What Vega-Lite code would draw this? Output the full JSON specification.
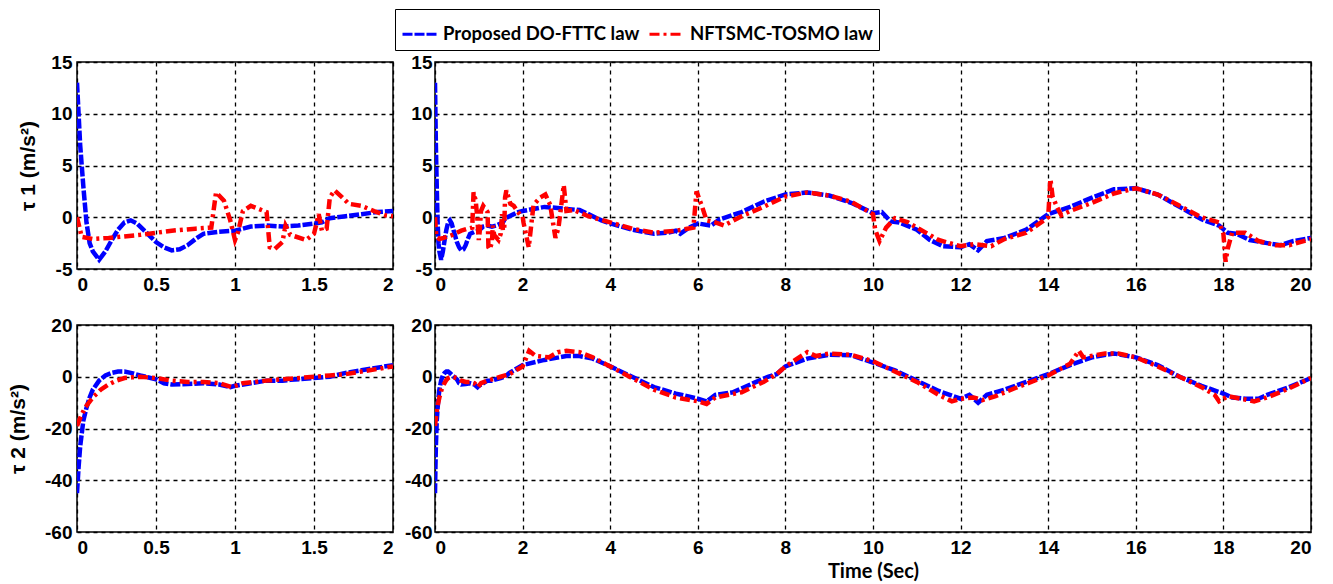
{
  "$schema": "https://vega.github.io/schema/vega-lite/v6.json",
  "padding": {"left": 6, "top": 8, "right": 5, "bottom": 2},
  "background": "white",
  "config": {
    "view": {"stroke": "black", "strokeWidth": 1.5},
    "axis": {
      "labelFont": "Liberation Sans", "labelFontWeight": "bold", "labelFontSize": 19, "labelColor": "black",
      "titleFont": "Liberation Sans", "titleFontWeight": "bold", "titleFontSize": 21, "titleColor": "black",
      "grid": true, "gridColor": "black", "gridDash": [4, 4], "gridWidth": 1.3, "gridOpacity": 1,
      "domain": false, "ticks": false, "labelExpr": "'' + datum.value"
    },
    "axisX": {"labelPadding": 6},
    "axisY": {"labelPadding": 5}
  },
  "datasets": {
    "tau1": [
      {"law": "Proposed DO-FTTC law", "t": 0, "v": 13},
      {"law": "Proposed DO-FTTC law", "t": 0.01, "v": 10},
      {"law": "Proposed DO-FTTC law", "t": 0.02, "v": 7},
      {"law": "Proposed DO-FTTC law", "t": 0.04, "v": 3},
      {"law": "Proposed DO-FTTC law", "t": 0.06, "v": -0.5},
      {"law": "Proposed DO-FTTC law", "t": 0.08, "v": -2.5},
      {"law": "Proposed DO-FTTC law", "t": 0.1, "v": -3.3},
      {"law": "Proposed DO-FTTC law", "t": 0.14, "v": -4.1},
      {"law": "Proposed DO-FTTC law", "t": 0.18, "v": -3.3},
      {"law": "Proposed DO-FTTC law", "t": 0.22, "v": -2.2},
      {"law": "Proposed DO-FTTC law", "t": 0.26, "v": -1.2},
      {"law": "Proposed DO-FTTC law", "t": 0.3, "v": -0.5},
      {"law": "Proposed DO-FTTC law", "t": 0.34, "v": -0.3},
      {"law": "Proposed DO-FTTC law", "t": 0.38, "v": -0.6},
      {"law": "Proposed DO-FTTC law", "t": 0.42, "v": -1.2},
      {"law": "Proposed DO-FTTC law", "t": 0.46, "v": -1.8},
      {"law": "Proposed DO-FTTC law", "t": 0.5, "v": -2.4},
      {"law": "Proposed DO-FTTC law", "t": 0.55, "v": -2.9},
      {"law": "Proposed DO-FTTC law", "t": 0.6, "v": -3.2},
      {"law": "Proposed DO-FTTC law", "t": 0.65, "v": -3.1},
      {"law": "Proposed DO-FTTC law", "t": 0.7, "v": -2.7},
      {"law": "Proposed DO-FTTC law", "t": 0.75, "v": -2.1},
      {"law": "Proposed DO-FTTC law", "t": 0.8, "v": -1.6},
      {"law": "Proposed DO-FTTC law", "t": 0.9, "v": -1.4},
      {"law": "Proposed DO-FTTC law", "t": 1.0, "v": -1.3},
      {"law": "Proposed DO-FTTC law", "t": 1.05, "v": -1.1},
      {"law": "Proposed DO-FTTC law", "t": 1.1, "v": -0.9},
      {"law": "Proposed DO-FTTC law", "t": 1.2, "v": -0.8},
      {"law": "Proposed DO-FTTC law", "t": 1.3, "v": -0.9},
      {"law": "Proposed DO-FTTC law", "t": 1.4, "v": -0.8},
      {"law": "Proposed DO-FTTC law", "t": 1.5, "v": -0.6},
      {"law": "Proposed DO-FTTC law", "t": 1.55, "v": -0.5},
      {"law": "Proposed DO-FTTC law", "t": 1.6, "v": -0.1},
      {"law": "Proposed DO-FTTC law", "t": 1.7, "v": 0.1},
      {"law": "Proposed DO-FTTC law", "t": 1.8, "v": 0.3},
      {"law": "Proposed DO-FTTC law", "t": 1.9, "v": 0.5},
      {"law": "Proposed DO-FTTC law", "t": 2.0, "v": 0.6},
      {"law": "Proposed DO-FTTC law", "t": 2.5, "v": 1.0},
      {"law": "Proposed DO-FTTC law", "t": 2.8, "v": 0.9},
      {"law": "Proposed DO-FTTC law", "t": 3.0, "v": 0.8},
      {"law": "Proposed DO-FTTC law", "t": 3.3, "v": 0.7},
      {"law": "Proposed DO-FTTC law", "t": 3.5, "v": 0.3},
      {"law": "Proposed DO-FTTC law", "t": 3.8, "v": -0.3},
      {"law": "Proposed DO-FTTC law", "t": 4.0, "v": -0.6},
      {"law": "Proposed DO-FTTC law", "t": 4.5, "v": -1.2},
      {"law": "Proposed DO-FTTC law", "t": 5.0, "v": -1.6},
      {"law": "Proposed DO-FTTC law", "t": 5.3, "v": -1.5},
      {"law": "Proposed DO-FTTC law", "t": 5.5, "v": -1.3},
      {"law": "Proposed DO-FTTC law", "t": 5.6, "v": -1.6},
      {"law": "Proposed DO-FTTC law", "t": 5.8, "v": -1.0},
      {"law": "Proposed DO-FTTC law", "t": 6.0, "v": -0.6},
      {"law": "Proposed DO-FTTC law", "t": 6.3, "v": -0.8},
      {"law": "Proposed DO-FTTC law", "t": 6.5, "v": -0.2},
      {"law": "Proposed DO-FTTC law", "t": 7.0, "v": 0.5},
      {"law": "Proposed DO-FTTC law", "t": 7.5, "v": 1.5},
      {"law": "Proposed DO-FTTC law", "t": 8.0, "v": 2.2},
      {"law": "Proposed DO-FTTC law", "t": 8.5, "v": 2.4},
      {"law": "Proposed DO-FTTC law", "t": 9.0, "v": 2.1},
      {"law": "Proposed DO-FTTC law", "t": 9.5, "v": 1.4},
      {"law": "Proposed DO-FTTC law", "t": 10.0, "v": 0.4},
      {"law": "Proposed DO-FTTC law", "t": 10.2, "v": 0.5},
      {"law": "Proposed DO-FTTC law", "t": 10.4, "v": -0.4},
      {"law": "Proposed DO-FTTC law", "t": 10.6, "v": -0.5},
      {"law": "Proposed DO-FTTC law", "t": 11.0, "v": -1.2},
      {"law": "Proposed DO-FTTC law", "t": 11.3, "v": -2.2},
      {"law": "Proposed DO-FTTC law", "t": 11.6, "v": -2.8},
      {"law": "Proposed DO-FTTC law", "t": 12.0, "v": -2.9},
      {"law": "Proposed DO-FTTC law", "t": 12.2, "v": -2.6},
      {"law": "Proposed DO-FTTC law", "t": 12.4, "v": -3.2},
      {"law": "Proposed DO-FTTC law", "t": 12.6, "v": -2.3},
      {"law": "Proposed DO-FTTC law", "t": 13.0, "v": -2.0},
      {"law": "Proposed DO-FTTC law", "t": 13.5, "v": -1.2},
      {"law": "Proposed DO-FTTC law", "t": 14.0, "v": 0.3},
      {"law": "Proposed DO-FTTC law", "t": 14.5, "v": 1.0},
      {"law": "Proposed DO-FTTC law", "t": 15.0, "v": 1.9},
      {"law": "Proposed DO-FTTC law", "t": 15.5, "v": 2.7},
      {"law": "Proposed DO-FTTC law", "t": 16.0, "v": 2.8},
      {"law": "Proposed DO-FTTC law", "t": 16.5, "v": 2.2},
      {"law": "Proposed DO-FTTC law", "t": 17.0, "v": 1.0},
      {"law": "Proposed DO-FTTC law", "t": 17.5, "v": -0.2},
      {"law": "Proposed DO-FTTC law", "t": 17.9, "v": -0.8},
      {"law": "Proposed DO-FTTC law", "t": 18.1, "v": -1.5},
      {"law": "Proposed DO-FTTC law", "t": 18.3, "v": -1.6},
      {"law": "Proposed DO-FTTC law", "t": 18.6, "v": -2.2},
      {"law": "Proposed DO-FTTC law", "t": 19.0, "v": -2.5},
      {"law": "Proposed DO-FTTC law", "t": 19.3, "v": -2.7},
      {"law": "Proposed DO-FTTC law", "t": 19.6, "v": -2.3},
      {"law": "Proposed DO-FTTC law", "t": 20.0, "v": -2.0},
      {"law": "NFTSMC-TOSMO law", "t": 0, "v": 0},
      {"law": "NFTSMC-TOSMO law", "t": 0.03, "v": -1.9},
      {"law": "NFTSMC-TOSMO law", "t": 0.1, "v": -2.1},
      {"law": "NFTSMC-TOSMO law", "t": 0.2, "v": -2.0},
      {"law": "NFTSMC-TOSMO law", "t": 0.4, "v": -1.7},
      {"law": "NFTSMC-TOSMO law", "t": 0.6, "v": -1.3},
      {"law": "NFTSMC-TOSMO law", "t": 0.75, "v": -1.1},
      {"law": "NFTSMC-TOSMO law", "t": 0.85, "v": -1.0},
      {"law": "NFTSMC-TOSMO law", "t": 0.88, "v": 2.4},
      {"law": "NFTSMC-TOSMO law", "t": 0.93, "v": 1.6},
      {"law": "NFTSMC-TOSMO law", "t": 0.97, "v": -0.3},
      {"law": "NFTSMC-TOSMO law", "t": 1.0, "v": -2.2},
      {"law": "NFTSMC-TOSMO law", "t": 1.02, "v": -1.4},
      {"law": "NFTSMC-TOSMO law", "t": 1.05, "v": 0.6},
      {"law": "NFTSMC-TOSMO law", "t": 1.1, "v": 1.1},
      {"law": "NFTSMC-TOSMO law", "t": 1.15, "v": 0.8},
      {"law": "NFTSMC-TOSMO law", "t": 1.2, "v": 0.5},
      {"law": "NFTSMC-TOSMO law", "t": 1.22, "v": -2.9},
      {"law": "NFTSMC-TOSMO law", "t": 1.25, "v": -3.1},
      {"law": "NFTSMC-TOSMO law", "t": 1.3, "v": -2.4},
      {"law": "NFTSMC-TOSMO law", "t": 1.32, "v": -0.8},
      {"law": "NFTSMC-TOSMO law", "t": 1.35, "v": -1.7},
      {"law": "NFTSMC-TOSMO law", "t": 1.45, "v": -2.2},
      {"law": "NFTSMC-TOSMO law", "t": 1.5, "v": -1.6},
      {"law": "NFTSMC-TOSMO law", "t": 1.53, "v": 0.3},
      {"law": "NFTSMC-TOSMO law", "t": 1.55, "v": -1.3},
      {"law": "NFTSMC-TOSMO law", "t": 1.58, "v": -1.1},
      {"law": "NFTSMC-TOSMO law", "t": 1.6, "v": 1.9},
      {"law": "NFTSMC-TOSMO law", "t": 1.63, "v": 2.6},
      {"law": "NFTSMC-TOSMO law", "t": 1.68, "v": 1.9},
      {"law": "NFTSMC-TOSMO law", "t": 1.72, "v": 1.3},
      {"law": "NFTSMC-TOSMO law", "t": 1.8, "v": 1.1},
      {"law": "NFTSMC-TOSMO law", "t": 1.88, "v": 0.6},
      {"law": "NFTSMC-TOSMO law", "t": 1.95, "v": 0.2},
      {"law": "NFTSMC-TOSMO law", "t": 2.0, "v": 0.1},
      {"law": "NFTSMC-TOSMO law", "t": 2.02, "v": -0.5},
      {"law": "NFTSMC-TOSMO law", "t": 2.14, "v": -2.9},
      {"law": "NFTSMC-TOSMO law", "t": 2.25, "v": 1.2},
      {"law": "NFTSMC-TOSMO law", "t": 2.4, "v": 1.9},
      {"law": "NFTSMC-TOSMO law", "t": 2.52, "v": 2.2},
      {"law": "NFTSMC-TOSMO law", "t": 2.63, "v": 1.2},
      {"law": "NFTSMC-TOSMO law", "t": 2.75, "v": -2.0},
      {"law": "NFTSMC-TOSMO law", "t": 2.82, "v": -1.0},
      {"law": "NFTSMC-TOSMO law", "t": 2.94, "v": 3.1},
      {"law": "NFTSMC-TOSMO law", "t": 3.0, "v": 0.6},
      {"law": "NFTSMC-TOSMO law", "t": 3.17, "v": 0.7},
      {"law": "NFTSMC-TOSMO law", "t": 3.5, "v": 0.1},
      {"law": "NFTSMC-TOSMO law", "t": 4.0, "v": -0.5},
      {"law": "NFTSMC-TOSMO law", "t": 4.5, "v": -1.1},
      {"law": "NFTSMC-TOSMO law", "t": 5.0, "v": -1.5},
      {"law": "NFTSMC-TOSMO law", "t": 5.5, "v": -1.3},
      {"law": "NFTSMC-TOSMO law", "t": 5.9, "v": -1.0},
      {"law": "NFTSMC-TOSMO law", "t": 5.97, "v": 2.5},
      {"law": "NFTSMC-TOSMO law", "t": 6.1, "v": 1.0},
      {"law": "NFTSMC-TOSMO law", "t": 6.2, "v": -0.3},
      {"law": "NFTSMC-TOSMO law", "t": 6.4, "v": -0.5},
      {"law": "NFTSMC-TOSMO law", "t": 6.6, "v": -0.8},
      {"law": "NFTSMC-TOSMO law", "t": 7.0, "v": 0.1},
      {"law": "NFTSMC-TOSMO law", "t": 7.5, "v": 1.0},
      {"law": "NFTSMC-TOSMO law", "t": 8.0, "v": 2.0},
      {"law": "NFTSMC-TOSMO law", "t": 8.5, "v": 2.4},
      {"law": "NFTSMC-TOSMO law", "t": 9.0, "v": 2.1},
      {"law": "NFTSMC-TOSMO law", "t": 9.5, "v": 1.5},
      {"law": "NFTSMC-TOSMO law", "t": 10.0, "v": 0.3},
      {"law": "NFTSMC-TOSMO law", "t": 10.05, "v": -1.2},
      {"law": "NFTSMC-TOSMO law", "t": 10.15, "v": -2.3},
      {"law": "NFTSMC-TOSMO law", "t": 10.3, "v": -1.0},
      {"law": "NFTSMC-TOSMO law", "t": 10.5, "v": -0.1},
      {"law": "NFTSMC-TOSMO law", "t": 10.8, "v": -0.5},
      {"law": "NFTSMC-TOSMO law", "t": 11.0, "v": -1.0},
      {"law": "NFTSMC-TOSMO law", "t": 11.5, "v": -2.2},
      {"law": "NFTSMC-TOSMO law", "t": 12.0, "v": -2.8},
      {"law": "NFTSMC-TOSMO law", "t": 12.3, "v": -2.6},
      {"law": "NFTSMC-TOSMO law", "t": 12.7, "v": -2.8},
      {"law": "NFTSMC-TOSMO law", "t": 13.0, "v": -2.1},
      {"law": "NFTSMC-TOSMO law", "t": 13.5, "v": -1.5},
      {"law": "NFTSMC-TOSMO law", "t": 13.9, "v": -0.3},
      {"law": "NFTSMC-TOSMO law", "t": 14.0, "v": 0.0},
      {"law": "NFTSMC-TOSMO law", "t": 14.05, "v": 3.7},
      {"law": "NFTSMC-TOSMO law", "t": 14.1, "v": 2.0},
      {"law": "NFTSMC-TOSMO law", "t": 14.2, "v": 1.0},
      {"law": "NFTSMC-TOSMO law", "t": 14.3, "v": 0.2},
      {"law": "NFTSMC-TOSMO law", "t": 14.5, "v": 0.6},
      {"law": "NFTSMC-TOSMO law", "t": 15.0, "v": 1.4},
      {"law": "NFTSMC-TOSMO law", "t": 15.5, "v": 2.3},
      {"law": "NFTSMC-TOSMO law", "t": 16.0, "v": 2.8},
      {"law": "NFTSMC-TOSMO law", "t": 16.5, "v": 2.2},
      {"law": "NFTSMC-TOSMO law", "t": 17.0, "v": 1.1},
      {"law": "NFTSMC-TOSMO law", "t": 17.5, "v": 0.0},
      {"law": "NFTSMC-TOSMO law", "t": 17.9, "v": -0.5},
      {"law": "NFTSMC-TOSMO law", "t": 18.0, "v": -1.6},
      {"law": "NFTSMC-TOSMO law", "t": 18.05, "v": -4.3},
      {"law": "NFTSMC-TOSMO law", "t": 18.1, "v": -3.0},
      {"law": "NFTSMC-TOSMO law", "t": 18.2, "v": -1.5},
      {"law": "NFTSMC-TOSMO law", "t": 18.5, "v": -1.5},
      {"law": "NFTSMC-TOSMO law", "t": 18.8, "v": -2.3},
      {"law": "NFTSMC-TOSMO law", "t": 19.2, "v": -2.7},
      {"law": "NFTSMC-TOSMO law", "t": 19.5, "v": -2.7},
      {"law": "NFTSMC-TOSMO law", "t": 20.0, "v": -2.1}
    ],
    "tau2": [
      {"law": "Proposed DO-FTTC law", "t": 0, "v": -45},
      {"law": "Proposed DO-FTTC law", "t": 0.01, "v": -35},
      {"law": "Proposed DO-FTTC law", "t": 0.02, "v": -27},
      {"law": "Proposed DO-FTTC law", "t": 0.04, "v": -17},
      {"law": "Proposed DO-FTTC law", "t": 0.06, "v": -12},
      {"law": "Proposed DO-FTTC law", "t": 0.08, "v": -8},
      {"law": "Proposed DO-FTTC law", "t": 0.1, "v": -5},
      {"law": "Proposed DO-FTTC law", "t": 0.14, "v": -1.5},
      {"law": "Proposed DO-FTTC law", "t": 0.18, "v": 0.5},
      {"law": "Proposed DO-FTTC law", "t": 0.22, "v": 1.5},
      {"law": "Proposed DO-FTTC law", "t": 0.26, "v": 2},
      {"law": "Proposed DO-FTTC law", "t": 0.3, "v": 2},
      {"law": "Proposed DO-FTTC law", "t": 0.34, "v": 1.5},
      {"law": "Proposed DO-FTTC law", "t": 0.4, "v": 0.5},
      {"law": "Proposed DO-FTTC law", "t": 0.5, "v": -1},
      {"law": "Proposed DO-FTTC law", "t": 0.55, "v": -2.5},
      {"law": "Proposed DO-FTTC law", "t": 0.6, "v": -3},
      {"law": "Proposed DO-FTTC law", "t": 0.7, "v": -2.8},
      {"law": "Proposed DO-FTTC law", "t": 0.8, "v": -2.5},
      {"law": "Proposed DO-FTTC law", "t": 0.9, "v": -3},
      {"law": "Proposed DO-FTTC law", "t": 0.97, "v": -4},
      {"law": "Proposed DO-FTTC law", "t": 1.0, "v": -3.5},
      {"law": "Proposed DO-FTTC law", "t": 1.1, "v": -2.5},
      {"law": "Proposed DO-FTTC law", "t": 1.2, "v": -1.5},
      {"law": "Proposed DO-FTTC law", "t": 1.3, "v": -1.5},
      {"law": "Proposed DO-FTTC law", "t": 1.35, "v": -1.2},
      {"law": "Proposed DO-FTTC law", "t": 1.5, "v": -0.5},
      {"law": "Proposed DO-FTTC law", "t": 1.6, "v": 0},
      {"law": "Proposed DO-FTTC law", "t": 1.7, "v": 1.5},
      {"law": "Proposed DO-FTTC law", "t": 1.8, "v": 2.5},
      {"law": "Proposed DO-FTTC law", "t": 1.9, "v": 3.5},
      {"law": "Proposed DO-FTTC law", "t": 2.0, "v": 4.5},
      {"law": "Proposed DO-FTTC law", "t": 2.5, "v": 6.5},
      {"law": "Proposed DO-FTTC law", "t": 3.0, "v": 8},
      {"law": "Proposed DO-FTTC law", "t": 3.3, "v": 8},
      {"law": "Proposed DO-FTTC law", "t": 3.6, "v": 7},
      {"law": "Proposed DO-FTTC law", "t": 4.0, "v": 4},
      {"law": "Proposed DO-FTTC law", "t": 4.5, "v": 0},
      {"law": "Proposed DO-FTTC law", "t": 5.0, "v": -4},
      {"law": "Proposed DO-FTTC law", "t": 5.5, "v": -6.5},
      {"law": "Proposed DO-FTTC law", "t": 6.0, "v": -8.5},
      {"law": "Proposed DO-FTTC law", "t": 6.2, "v": -9.5},
      {"law": "Proposed DO-FTTC law", "t": 6.4, "v": -7},
      {"law": "Proposed DO-FTTC law", "t": 6.8, "v": -6},
      {"law": "Proposed DO-FTTC law", "t": 7.2, "v": -3},
      {"law": "Proposed DO-FTTC law", "t": 7.6, "v": 0},
      {"law": "Proposed DO-FTTC law", "t": 7.8, "v": 1},
      {"law": "Proposed DO-FTTC law", "t": 8.0, "v": 4},
      {"law": "Proposed DO-FTTC law", "t": 8.5, "v": 7},
      {"law": "Proposed DO-FTTC law", "t": 9.0, "v": 8.5},
      {"law": "Proposed DO-FTTC law", "t": 9.5, "v": 8.3},
      {"law": "Proposed DO-FTTC law", "t": 10.0, "v": 5.5},
      {"law": "Proposed DO-FTTC law", "t": 10.5, "v": 2.5},
      {"law": "Proposed DO-FTTC law", "t": 11.0, "v": -1.5},
      {"law": "Proposed DO-FTTC law", "t": 11.5, "v": -5.5},
      {"law": "Proposed DO-FTTC law", "t": 12.0, "v": -8.5},
      {"law": "Proposed DO-FTTC law", "t": 12.2, "v": -7},
      {"law": "Proposed DO-FTTC law", "t": 12.4, "v": -10},
      {"law": "Proposed DO-FTTC law", "t": 12.6, "v": -7},
      {"law": "Proposed DO-FTTC law", "t": 13.0, "v": -5},
      {"law": "Proposed DO-FTTC law", "t": 13.5, "v": -2},
      {"law": "Proposed DO-FTTC law", "t": 14.0, "v": 1},
      {"law": "Proposed DO-FTTC law", "t": 14.5, "v": 4.5},
      {"law": "Proposed DO-FTTC law", "t": 15.0, "v": 7.5},
      {"law": "Proposed DO-FTTC law", "t": 15.5, "v": 9},
      {"law": "Proposed DO-FTTC law", "t": 16.0, "v": 7.5},
      {"law": "Proposed DO-FTTC law", "t": 16.5, "v": 4.5},
      {"law": "Proposed DO-FTTC law", "t": 17.0, "v": 0},
      {"law": "Proposed DO-FTTC law", "t": 17.5, "v": -3.5},
      {"law": "Proposed DO-FTTC law", "t": 18.0, "v": -6.5},
      {"law": "Proposed DO-FTTC law", "t": 18.2, "v": -8},
      {"law": "Proposed DO-FTTC law", "t": 18.5, "v": -8.5},
      {"law": "Proposed DO-FTTC law", "t": 18.8, "v": -8.5},
      {"law": "Proposed DO-FTTC law", "t": 19.0, "v": -7},
      {"law": "Proposed DO-FTTC law", "t": 19.5, "v": -4},
      {"law": "Proposed DO-FTTC law", "t": 20.0, "v": -0.5},
      {"law": "NFTSMC-TOSMO law", "t": 0, "v": -19},
      {"law": "NFTSMC-TOSMO law", "t": 0.02, "v": -16},
      {"law": "NFTSMC-TOSMO law", "t": 0.05, "v": -12},
      {"law": "NFTSMC-TOSMO law", "t": 0.1, "v": -8},
      {"law": "NFTSMC-TOSMO law", "t": 0.15, "v": -5},
      {"law": "NFTSMC-TOSMO law", "t": 0.2, "v": -3},
      {"law": "NFTSMC-TOSMO law", "t": 0.25, "v": -1.5},
      {"law": "NFTSMC-TOSMO law", "t": 0.3, "v": -0.5},
      {"law": "NFTSMC-TOSMO law", "t": 0.35, "v": -0.2},
      {"law": "NFTSMC-TOSMO law", "t": 0.4, "v": 0},
      {"law": "NFTSMC-TOSMO law", "t": 0.5, "v": -0.5},
      {"law": "NFTSMC-TOSMO law", "t": 0.6, "v": -1.5},
      {"law": "NFTSMC-TOSMO law", "t": 0.7, "v": -2},
      {"law": "NFTSMC-TOSMO law", "t": 0.8, "v": -2},
      {"law": "NFTSMC-TOSMO law", "t": 0.9, "v": -2.5},
      {"law": "NFTSMC-TOSMO law", "t": 0.98, "v": -4},
      {"law": "NFTSMC-TOSMO law", "t": 1.05, "v": -2.5},
      {"law": "NFTSMC-TOSMO law", "t": 1.2, "v": -1.5},
      {"law": "NFTSMC-TOSMO law", "t": 1.3, "v": -1},
      {"law": "NFTSMC-TOSMO law", "t": 1.5, "v": 0},
      {"law": "NFTSMC-TOSMO law", "t": 1.6, "v": 0.5},
      {"law": "NFTSMC-TOSMO law", "t": 1.7, "v": 1},
      {"law": "NFTSMC-TOSMO law", "t": 1.8, "v": 2},
      {"law": "NFTSMC-TOSMO law", "t": 1.9, "v": 3},
      {"law": "NFTSMC-TOSMO law", "t": 2.0, "v": 4},
      {"law": "NFTSMC-TOSMO law", "t": 2.15, "v": 10},
      {"law": "NFTSMC-TOSMO law", "t": 2.3, "v": 8},
      {"law": "NFTSMC-TOSMO law", "t": 2.6, "v": 7.5},
      {"law": "NFTSMC-TOSMO law", "t": 2.8, "v": 9.5},
      {"law": "NFTSMC-TOSMO law", "t": 3.0, "v": 10},
      {"law": "NFTSMC-TOSMO law", "t": 3.3, "v": 9.5},
      {"law": "NFTSMC-TOSMO law", "t": 3.6, "v": 7.5},
      {"law": "NFTSMC-TOSMO law", "t": 4.0, "v": 4},
      {"law": "NFTSMC-TOSMO law", "t": 4.5, "v": -0.5},
      {"law": "NFTSMC-TOSMO law", "t": 5.0, "v": -5},
      {"law": "NFTSMC-TOSMO law", "t": 5.5, "v": -8},
      {"law": "NFTSMC-TOSMO law", "t": 6.0, "v": -9.5},
      {"law": "NFTSMC-TOSMO law", "t": 6.2, "v": -10.5},
      {"law": "NFTSMC-TOSMO law", "t": 6.4, "v": -8},
      {"law": "NFTSMC-TOSMO law", "t": 7.0, "v": -6},
      {"law": "NFTSMC-TOSMO law", "t": 7.5, "v": -2},
      {"law": "NFTSMC-TOSMO law", "t": 7.8, "v": 1},
      {"law": "NFTSMC-TOSMO law", "t": 8.0, "v": 4},
      {"law": "NFTSMC-TOSMO law", "t": 8.5, "v": 9.5},
      {"law": "NFTSMC-TOSMO law", "t": 8.7, "v": 8},
      {"law": "NFTSMC-TOSMO law", "t": 9.0, "v": 9},
      {"law": "NFTSMC-TOSMO law", "t": 9.5, "v": 8.5},
      {"law": "NFTSMC-TOSMO law", "t": 10.0, "v": 6},
      {"law": "NFTSMC-TOSMO law", "t": 10.5, "v": 2},
      {"law": "NFTSMC-TOSMO law", "t": 11.0, "v": -2},
      {"law": "NFTSMC-TOSMO law", "t": 11.5, "v": -7},
      {"law": "NFTSMC-TOSMO law", "t": 11.8, "v": -9.5},
      {"law": "NFTSMC-TOSMO law", "t": 12.0, "v": -8.5},
      {"law": "NFTSMC-TOSMO law", "t": 12.3, "v": -8},
      {"law": "NFTSMC-TOSMO law", "t": 12.5, "v": -9},
      {"law": "NFTSMC-TOSMO law", "t": 12.8, "v": -7.5},
      {"law": "NFTSMC-TOSMO law", "t": 13.3, "v": -4},
      {"law": "NFTSMC-TOSMO law", "t": 14.0, "v": 0.5},
      {"law": "NFTSMC-TOSMO law", "t": 14.5, "v": 5},
      {"law": "NFTSMC-TOSMO law", "t": 14.7, "v": 10},
      {"law": "NFTSMC-TOSMO law", "t": 14.8, "v": 7.5},
      {"law": "NFTSMC-TOSMO law", "t": 15.3, "v": 9},
      {"law": "NFTSMC-TOSMO law", "t": 15.6, "v": 9},
      {"law": "NFTSMC-TOSMO law", "t": 16.0, "v": 7.5},
      {"law": "NFTSMC-TOSMO law", "t": 16.5, "v": 4},
      {"law": "NFTSMC-TOSMO law", "t": 17.0, "v": 0},
      {"law": "NFTSMC-TOSMO law", "t": 17.5, "v": -4},
      {"law": "NFTSMC-TOSMO law", "t": 17.8, "v": -7},
      {"law": "NFTSMC-TOSMO law", "t": 17.9, "v": -9.5},
      {"law": "NFTSMC-TOSMO law", "t": 18.1, "v": -7.5},
      {"law": "NFTSMC-TOSMO law", "t": 18.4, "v": -8.5},
      {"law": "NFTSMC-TOSMO law", "t": 18.7, "v": -9.5},
      {"law": "NFTSMC-TOSMO law", "t": 19.0, "v": -8},
      {"law": "NFTSMC-TOSMO law", "t": 19.5, "v": -4.5},
      {"law": "NFTSMC-TOSMO law", "t": 20.0, "v": -0.5}
    ]
  },
  "resolve": {"legend": {"color": "shared", "strokeDash": "shared"}},
  "columns": 2,
  "align": "each",
  "bounds": "flush",
  "spacing": {"row": 56, "column": 42},
  "concat": [
    {
      "width": 316, "height": 207,
      "data": {"name": "tau1"},
      "transform": [{"filter": "datum.t <= 2"}],
      "mark": {"type": "line", "strokeWidth": 4.5, "clip": true},
      "encoding": {
        "x": {"field": "t", "type": "quantitative", "scale": {"domain": [0, 2], "nice": false}, "axis": {"values": [0, 0.5, 1, 1.5, 2], "title": null}},
        "y": {"field": "v", "type": "quantitative", "scale": {"domain": [-5, 15], "nice": false}, "axis": {"values": [-5, 0, 5, 10, 15], "title": "τ 1 (m/s²)", "titlePadding": 12}},
        "color": {"field": "law", "type": "nominal", "sort": null,
          "scale": {"domain": ["Proposed DO-FTTC law", "NFTSMC-TOSMO law"], "range": ["#0000ff", "#ff0000"]},
          "legend": {"title": null, "orient": "none", "direction": "horizontal", "legendX": 318, "legendY": -53,
            "strokeColor": "black", "fillColor": "white", "padding": 6, "cornerRadius": 0,
            "symbolType": "stroke", "symbolSize": 1225, "symbolStrokeWidth": 3,
            "labelFont": "Lato", "labelFontWeight": "bold", "labelFontSize": 18.5, "labelColor": "black", "labelLimit": 400,
            "labelOffset": 4, "columnPadding": 3}},
        "strokeDash": {"field": "law", "type": "nominal", "sort": null,
          "scale": {"domain": ["Proposed DO-FTTC law", "NFTSMC-TOSMO law"], "range": [[10, 2], [10, 4, 3, 4]]},
          "legend": {"title": null, "orient": "none", "direction": "horizontal", "legendX": 318, "legendY": -53,
            "strokeColor": "black", "fillColor": "white", "padding": 6, "cornerRadius": 0,
            "symbolType": "stroke", "symbolSize": 1225, "symbolStrokeWidth": 3,
            "labelFont": "Lato", "labelFontWeight": "bold", "labelFontSize": 18.5, "labelColor": "black", "labelLimit": 400,
            "labelOffset": 4, "columnPadding": 3}}
      }
    },
    {
      "width": 876, "height": 207,
      "data": {"name": "tau1"},
      "mark": {"type": "line", "strokeWidth": 4.5, "clip": true},
      "encoding": {
        "x": {"field": "t", "type": "quantitative", "scale": {"domain": [0, 20], "nice": false}, "axis": {"values": [0, 2, 4, 6, 8, 10, 12, 14, 16, 18, 20], "title": null}},
        "y": {"field": "v", "type": "quantitative", "scale": {"domain": [-5, 15], "nice": false}, "axis": {"values": [-5, 0, 5, 10, 15], "title": null, "labelPadding": 3}},
        "color": {"field": "law", "type": "nominal", "sort": null, "scale": {"domain": ["Proposed DO-FTTC law", "NFTSMC-TOSMO law"], "range": ["#0000ff", "#ff0000"]}},
        "strokeDash": {"field": "law", "type": "nominal", "sort": null, "scale": {"domain": ["Proposed DO-FTTC law", "NFTSMC-TOSMO law"], "range": [[10, 2], [10, 4, 3, 4]]}}
      }
    },
    {
      "width": 316, "height": 207,
      "data": {"name": "tau2"},
      "transform": [{"filter": "datum.t <= 2"}],
      "mark": {"type": "line", "strokeWidth": 4.5, "clip": true},
      "encoding": {
        "x": {"field": "t", "type": "quantitative", "scale": {"domain": [0, 2], "nice": false}, "axis": {"values": [0, 0.5, 1, 1.5, 2], "title": null}},
        "y": {"field": "v", "type": "quantitative", "scale": {"domain": [-60, 20], "nice": false}, "axis": {"values": [-60, -40, -20, 0, 20], "title": "τ 2 (m/s²)", "titlePadding": 16}},
        "color": {"field": "law", "type": "nominal", "sort": null, "scale": {"domain": ["Proposed DO-FTTC law", "NFTSMC-TOSMO law"], "range": ["#0000ff", "#ff0000"]}},
        "strokeDash": {"field": "law", "type": "nominal", "sort": null, "scale": {"domain": ["Proposed DO-FTTC law", "NFTSMC-TOSMO law"], "range": [[10, 2], [10, 4, 3, 4]]}}
      }
    },
    {
      "width": 876, "height": 207,
      "data": {"name": "tau2"},
      "mark": {"type": "line", "strokeWidth": 4.5, "clip": true},
      "encoding": {
        "x": {"field": "t", "type": "quantitative", "scale": {"domain": [0, 20], "nice": false}, "axis": {"values": [0, 2, 4, 6, 8, 10, 12, 14, 16, 18, 20], "title": "Time (Sec)", "titleFont": "Lato", "titleFontSize": 20, "titlePadding": 4}},
        "y": {"field": "v", "type": "quantitative", "scale": {"domain": [-60, 20], "nice": false}, "axis": {"values": [-60, -40, -20, 0, 20], "title": null, "labelPadding": 3}},
        "color": {"field": "law", "type": "nominal", "sort": null, "scale": {"domain": ["Proposed DO-FTTC law", "NFTSMC-TOSMO law"], "range": ["#0000ff", "#ff0000"]}},
        "strokeDash": {"field": "law", "type": "nominal", "sort": null, "scale": {"domain": ["Proposed DO-FTTC law", "NFTSMC-TOSMO law"], "range": [[10, 2], [10, 4, 3, 4]]}}
      }
    }
  ]
}
